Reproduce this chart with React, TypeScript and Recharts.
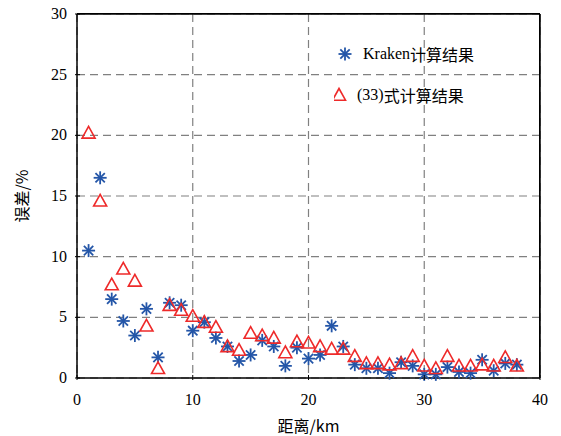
import React from "react";
import { CartesianGrid, ReferenceLine, Scatter, ScatterChart, XAxis, YAxis } from "recharts";

const distances = [
  1, 2, 3, 4, 5, 6, 7, 8, 9, 10, 11, 12, 13, 14, 15, 16, 17, 18, 19, 20, 21, 22, 23, 24, 25,
  26, 27, 28, 29, 30, 31, 32, 33, 34, 35, 36, 37, 38,
];
const krakenErr = [
  10.5, 16.5, 6.5, 4.7, 3.5, 5.7, 1.7, 6.2, 6.0, 3.9, 4.6, 3.3, 2.6, 1.4, 1.9, 3.1, 2.6, 1.0,
  2.5, 1.6, 1.9, 4.3, 2.6, 1.1, 0.8, 0.8, 0.4, 1.3, 1.0, 0.3, 0.3, 0.9, 0.5, 0.4, 1.5, 0.6,
  1.2, 1.1,
];
const formulaErr = [
  20.2, 14.6, 7.7, 9.0, 8.0, 4.3, 0.8, 6.0, 5.6, 5.1, 4.6, 4.2, 2.6, 2.3, 3.7, 3.5, 3.3, 2.1,
  3.0, 2.9, 2.6, 2.4, 2.4, 1.8, 1.2, 1.2, 1.1, 1.2, 1.8, 1.0, 0.8, 1.8, 1.0, 1.0, 1.1, 1.0,
  1.7, 1.0,
];
const xTicks = [0, 10, 20, 30, 40];
const yTicks = [0, 5, 10, 15, 20, 25, 30];

const BLUE = "#2456a8";
const RED = "#ee2a2a";
const SERIF = "'Liberation Serif', 'DejaVu Serif', serif";
const CJK = "'Noto Sans CJK SC', sans-serif";

// plot box in page pixels (chart margins + axis sizes)
const BOX = { left: 77, top: 14, right: 540, bottom: 378 };

const krakenData = distances.map((x, i) => ({ x, y: krakenErr[i] }));
const formulaData = distances.map((x, i) => ({ x, y: formulaErr[i] }));

function Star({ cx, cy }: any) {
  const r = 6.5;
  const d = r * 0.72;
  return (
    <g stroke={BLUE} strokeWidth={1.8}>
      <line x1={cx - r} y1={cy} x2={cx + r} y2={cy} />
      <line x1={cx} y1={cy - r} x2={cx} y2={cy + r} />
      <line x1={cx - d} y1={cy - d} x2={cx + d} y2={cy + d} />
      <line x1={cx - d} y1={cy + d} x2={cx + d} y2={cy - d} />
    </g>
  );
}

function Triangle({ cx, cy }: any) {
  const h = 6.5;
  return (
    <polygon
      points={`${cx},${cy - h} ${cx - h},${cy + h * 0.8} ${cx + h},${cy + h * 0.8}`}
      fill="none"
      stroke={RED}
      strokeWidth={1.6}
    />
  );
}

function BottomTick({ x, y, payload }: any) {
  return (
    <g>
      <line x1={x} y1={y} x2={x} y2={y - 5} stroke="#000" />
      <text x={x} y={y + 25} textAnchor="middle" fontFamily={SERIF} fontSize={16} fill="#000">
        {payload.value}
      </text>
    </g>
  );
}

function LeftTick({ x, y, payload }: any) {
  return (
    <g>
      <line x1={x} y1={y} x2={x + 5} y2={y} stroke="#000" />
      <text x={x - 8} y={y + 5} textAnchor="end" fontFamily={SERIF} fontSize={16} fill="#000">
        {payload.value}
      </text>
    </g>
  );
}

function LegendBox() {
  return (
    <div
      style={{
        position: "absolute",
        left: 334,
        top: 44,
        fontSize: 16,
        color: "#000",
        lineHeight: "20px",
      }}
    >
      <div style={{ display: "flex", alignItems: "center", height: 20 }}>
        <svg width={22} height={20}>
          <Star cx={11} cy={10} />
        </svg>
        <span style={{ fontFamily: SERIF, marginLeft: 7 }}>Kraken</span>
        <span style={{ fontFamily: CJK }}>计算结果</span>
      </div>
      <div style={{ display: "flex", alignItems: "center", height: 20, marginTop: 21 }}>
        <svg width={22} height={20}>
          <Triangle cx={5} cy={10} />
        </svg>
        <span style={{ fontFamily: SERIF, marginLeft: 1 }}>(33)</span>
        <span style={{ fontFamily: CJK }}>式计算结果</span>
      </div>
    </div>
  );
}

// top and right edges of the axes box
function Frame() {
  return (
    <div
      style={{
        position: "absolute",
        left: BOX.left,
        top: BOX.top - 1,
        width: BOX.right - BOX.left,
        height: BOX.bottom - BOX.top,
        borderTop: "1.5px solid #000",
        borderRight: "1.5px solid #000",
        boxSizing: "border-box",
        pointerEvents: "none",
      }}
    />
  );
}

export default function App() {
  return (
    <div style={{ position: "absolute", left: 0, top: 0, width: 561, height: 436, background: "#fff" }}>
      <ScatterChart
        width={561}
        height={436}
        margin={{ top: BOX.top, right: 561 - BOX.right, left: 0, bottom: 0 }}
      >
        <CartesianGrid stroke="#808080" strokeDasharray="8 5" strokeWidth={1.2} />
        <XAxis
          type="number"
          dataKey="x"
          domain={[0, 40]}
          ticks={xTicks}
          height={436 - BOX.bottom}
          tick={<BottomTick />}
          axisLine={{ stroke: "#000", strokeWidth: 1.5 }}
          tickLine={false}
          tickSize={0}
          label={{
            value: "距离/km",
            position: "insideBottom",
            offset: 4,
            style: { fontFamily: CJK, fontSize: 16, fill: "#000" },
          }}
        />
        <YAxis
          type="number"
          dataKey="y"
          domain={[0, 30]}
          ticks={yTicks}
          width={BOX.left}
          tick={<LeftTick />}
          axisLine={{ stroke: "#000", strokeWidth: 1.5 }}
          tickLine={false}
          tickSize={0}
          label={{
            value: "误差/%",
            angle: -90,
            position: "insideLeft",
            offset: 22,
            style: { fontFamily: CJK, fontSize: 16, fill: "#000", textAnchor: "middle" },
          }}
        />
        <ReferenceLine y={30} stroke="#000" strokeWidth={1.5} />
        <ReferenceLine x={40} stroke="#000" strokeWidth={1.5} />
        <Scatter data={krakenData} shape={<Star />} isAnimationActive={false} />
        <Scatter data={formulaData} shape={<Triangle />} isAnimationActive={false} />
      </ScatterChart>
      <Frame />
      <LegendBox />
    </div>
  );
}
